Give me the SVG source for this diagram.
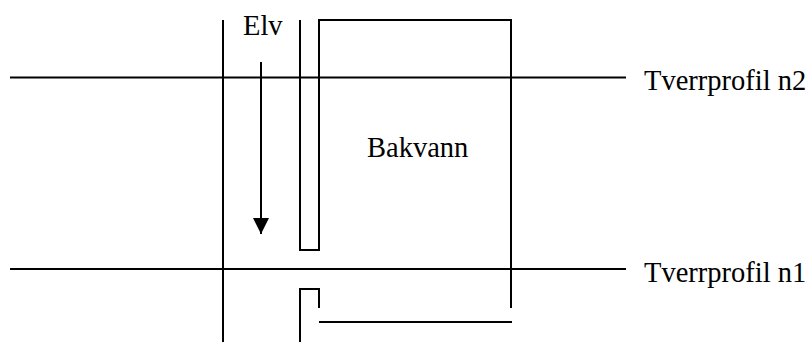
<svg xmlns="http://www.w3.org/2000/svg" width="812" height="343" viewBox="0 0 812 343">
<style>
.ln{stroke:#000;stroke-width:2;fill:none}
.t{font-family:"Liberation Serif","Times New Roman",serif;font-size:28.5px;fill:#000}
</style>
<defs>
<marker id="ah" markerWidth="16" markerHeight="16" viewBox="0 0 16 16" refX="16" refY="8" orient="auto" markerUnits="userSpaceOnUse">
<path d="M0,0 L16,8 L0,16 Z" fill="#000"/>
</marker>
</defs>
<g id="connectors">
<line class="ln" x1="10" y1="77.5" x2="626" y2="77.5"/>
<line class="ln" x1="10" y1="269" x2="626" y2="269"/>
<line class="ln" x1="223" y1="20" x2="223" y2="342"/>
<line class="ln" x1="261" y1="62" x2="261" y2="234" marker-end="url(#ah)"/>
</g>
<g id="bakvann">
<path class="ln" d="M300,20 V250 H319 V20 H511 V308"/>
<path class="ln" d="M300,342 V289 H319 V308"/>
<line class="ln" x1="319" y1="322" x2="512" y2="322"/>
<text class="t" x="367" y="157">Bakvann</text>
</g>
<g id="elv"><text class="t" x="243" y="35">Elv</text></g>
<g id="n2"><text class="t" x="644" y="90">Tverrprofil n2</text></g>
<g id="n1"><text class="t" x="644" y="281.5">Tverrprofil n1</text></g>
</svg>
